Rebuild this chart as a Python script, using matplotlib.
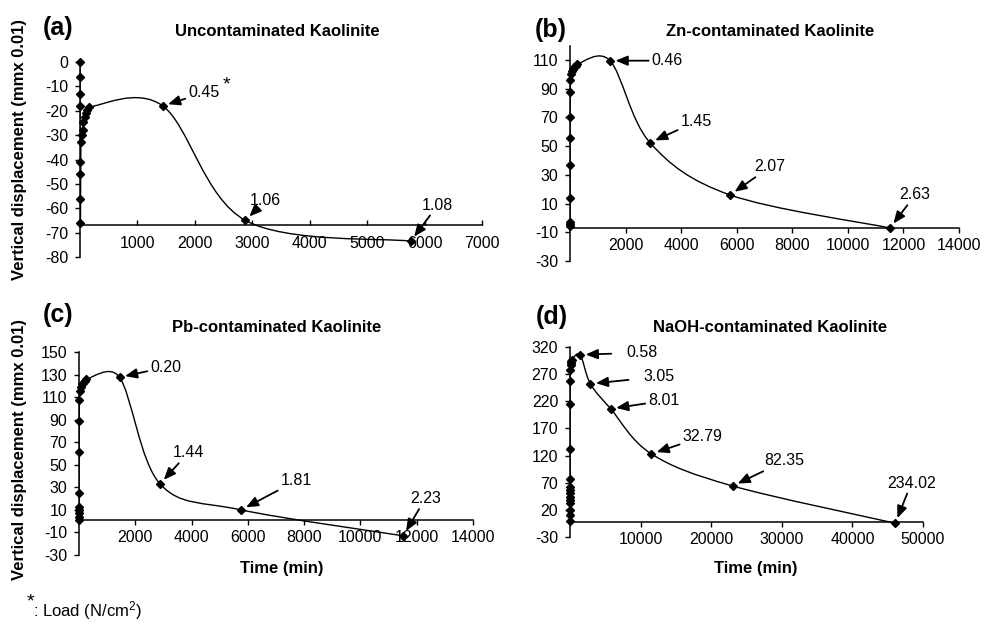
import matplotlib
matplotlib.use('Agg')
import matplotlib.pyplot as plt
import numpy as np
from matplotlib.path import Path
from matplotlib.patches import PathPatch

plt.rcParams['font.family'] = ['Liberation Sans', 'DejaVu Sans']
plt.rcParams['mathtext.fontset'] = 'custom'
plt.rcParams['mathtext.rm'] = 'Liberation Sans'
plt.rcParams['mathtext.it'] = 'Liberation Sans:italic'
plt.rcParams['mathtext.bf'] = 'Liberation Sans:bold'
plt.rcParams['axes.unicode_minus'] = False

# ---------------- data ----------------
a_time = [0, 0.1, 0.25, 0.5, 1, 2, 4, 8, 15, 30, 45, 60, 80, 100, 120, 150, 1440, 2880, 5760]
a_disp = [0, -6, -13, -18, -41, -46, -56, -66, -33, -30, -28, -24.5, -22.5, -21, -19.8, -18.5, -18, -65, -73.5]
a_load_idx = [16, 17, 18]
a_loads = ['0.45', '1.06', '1.08']

b_time = [0, 0.1, 0.25, 0.5, 1, 2, 4, 8, 15, 30, 60, 100, 150, 200, 240, 1440, 2880, 5760, 11520]
b_disp = [-5.5, -4, -3, 14, 37, 56, 70, 87.5, 96, 100.3, 102, 103.6, 105, 106, 107, 109.5, 52.4, 16, -7]
b_load_idx = [15, 16, 17, 18]
b_loads = ['0.46', '1.45', '2.07', '2.63']

c_time = [0, 0.1, 0.25, 0.5, 1, 2, 4, 8, 15, 30, 60, 100, 150, 200, 240, 1440, 2880, 5760, 11520]
c_disp = [1, 4, 7, 10, 12.8, 24.7, 61, 88.8, 107.4, 115.7, 119.3, 121.4, 122.8, 124.6, 125.8, 127.6, 33, 10, -13]
c_load_idx = [15, 16, 17, 18]
c_loads = ['0.20', '1.44', '1.81', '2.23']

d_time = [0, 0.1, 0.25, 0.5, 1, 2, 4, 6, 9, 12, 16, 25, 36, 60, 100, 144, 196, 240,
          1440, 2880, 5760, 11520, 23040, 46080]
d_disp = [-0.5, 10.6, 19.8, 32.2, 38.3, 44.4, 50.6, 56.7, 62.8, 77, 132.3, 214.8, 257.8, 278,
          287.4, 290.5, 293.5, 296.6, 305.8, 252.3, 206.2, 123.1, 64, -4.7]
d_load_idx = [18, 19, 20, 21, 22, 23]
d_loads = ['0.58', '3.05', '8.01', '32.79', '82.35', '234.02']

titles = ['Uncontaminated Kaolinite', 'Zn-contaminated Kaolinite',
          'Pb-contaminated Kaolinite', 'NaOH-contaminated Kaolinite']
panel_tags = ['(a)', '(b)', '(c)', '(d)']
y_label = 'Vertical displacement (mmx 0.01)'
x_label = 'Time (min)'

# ---------------- layout ----------------
W, H = 1000, 624
fig = plt.figure(figsize=(W / 100, H / 100), dpi=100)


def add_ax(l, r, t, b):
    return fig.add_axes([l / W, 1 - b / H, (r - l) / W, (b - t) / H])


def smooth_line(ax, xs, ys, lw=1.0):
    P = ax.transData.transform(np.column_stack([xs, ys]).astype(float))
    n = len(P)
    verts = [P[0]]
    codes = [Path.MOVETO]
    for i in range(n - 1):
        p0 = P[i - 1] if i > 0 else P[i]
        p1 = P[i]
        p2 = P[i + 1]
        p3 = P[i + 2] if i + 2 < n else P[i + 1]
        d12 = np.hypot(*(p2 - p1))
        d02 = np.hypot(*(p2 - p0))
        d13 = np.hypot(*(p3 - p1))
        f0 = 1 / 6
        f3 = 1 / 6
        if d02 > 0 and d02 / 6 >= d12 / 2:
            f0 = d12 / (2 * d02)
        if d13 > 0 and d13 / 6 >= d12 / 2:
            f3 = d12 / (2 * d13)
        c1 = p1 + (p2 - p0) * f0
        c2 = p2 - (p3 - p1) * f3
        verts += [c1, c2, p2]
        codes += [Path.CURVE4] * 3
    verts = ax.transData.inverted().transform(np.array(verts))
    ax.add_patch(PathPatch(Path(verts, codes), fill=False, lw=lw, ec='black', zorder=2))


def style(ax, xlim, xstep, ylim, yticks, cross, xdir):
    ax.set_xlim(*xlim)
    ax.set_ylim(*ylim)
    ax.set_xticks(np.arange(xstep, xlim[1] + 1, xstep))
    ax.set_yticks(yticks)
    ax.spines['top'].set_visible(False)
    ax.spines['right'].set_visible(False)
    ax.spines['bottom'].set_position(('data', cross))
    for s in ('left', 'bottom'):
        ax.spines[s].set_linewidth(1.1)
    xpad = 7.5 if xdir == 'in' else 3.5
    ax.tick_params(axis='x', direction=xdir, length=3.5, width=1, labelsize=11.5, pad=xpad)
    ax.tick_params(axis='y', direction='out', length=3.5, width=1, labelsize=11.5, pad=5)
    ax.patch.set_visible(False)


def annotate(ax, xs, ys, idx, labels, offsets, shrinkA):
    for k, (i, lab) in enumerate(zip(idx, labels)):
        dx, dy = offsets[k]
        ax.annotate(lab, xy=(xs[i], ys[i]), xytext=(dx * 0.72, dy * 0.72),
                    textcoords='offset points', ha='center', va='center', fontsize=11.5,
                    annotation_clip=False,
                    arrowprops=dict(arrowstyle='-|>,head_length=0.6,head_width=0.25',
                                    mutation_scale=12, color='black', lw=1.3,
                                    shrinkA=shrinkA[k], shrinkB=4))


panels = [
    dict(rect=(80, 482, 62, 257), xlim=(0, 7000), xstep=1000, ylim=(-80, 0),
         yticks=np.arange(-80, 1, 10), cross=-67, x=a_time, y=a_disp,
         idx=a_load_idx, labels=a_loads, xdir='in',
         offs=[(41, 13), (20, 20), (27, 36)], shrinkA=[0, 0, 0]),
    dict(rect=(570, 959, 45.6, 261), xlim=(0, 14000), xstep=2000, ylim=(-30, 120),
         yticks=np.arange(-30, 111, 20), cross=-7, x=b_time, y=b_disp,
         idx=b_load_idx, labels=b_loads, xdir='out',
         offs=[(57, 0), (46, 21), (40, 28), (25, 33)], shrinkA=[0, 0, 0, 0]),
    dict(rect=(79, 473, 352, 555), xlim=(0, 14000), xstep=2000, ylim=(-30, 150),
         yticks=np.arange(-30, 151, 20), cross=1, x=c_time, y=c_disp,
         idx=c_load_idx, labels=c_loads, xdir='out',
         offs=[(46, 10), (28, 31), (55, 29), (22, 37)], shrinkA=[0, 0, 0, 0]),
    dict(rect=(570, 923, 347, 537), xlim=(0, 50000), xstep=10000, ylim=(-30, 320),
         yticks=np.arange(-30, 321, 50), cross=-3, x=d_time, y=d_disp,
         idx=d_load_idx, labels=d_loads, xdir='out',
         offs=[(62, 2), (69, 7), (53, 8), (51, 17), (52, 25), (16, 40)],
         shrinkA=[9, 9, 0, 0, 0, 0]),
]

axes = []
for p in panels:
    ax = add_ax(*p['rect'])
    style(ax, p['xlim'], p['xstep'], p['ylim'], p['yticks'], p['cross'], p['xdir'])
    smooth_line(ax, p['x'], p['y'])
    ax.plot(p['x'], p['y'], linestyle='none', marker='D', ms=4, color='black',
            clip_on=False, zorder=3)
    annotate(ax, p['x'], p['y'], p['idx'], p['labels'], p['offs'], p['shrinkA'])
    axes.append(ax)

# superscript star after 0.45
axes[0].annotate('*', xy=(a_time[a_load_idx[0]], a_disp[a_load_idx[0]]),
                 xytext=(64 * 0.72, 21 * 0.72), textcoords='offset points',
                 ha='center', va='center', fontsize=14)

# titles & tags
title_pos = [(277, 31), (770, 32), (277, 327), (770, 327)]
tag_pos = [(43, 28), (535, 30), (43, 315), (536, 317)]
for t, (x, y) in zip(titles, title_pos):
    fig.text(x / W, 1 - y / H, t, ha='center', va='center', fontsize=12, fontweight='bold')
for t, (x, y) in zip(panel_tags, tag_pos):
    fig.text(x / W, 1 - y / H, t, ha='left', va='center', fontsize=18, fontweight='bold')

# axis labels
for (x, y) in [(20, 149), (20, 450)]:
    fig.text(x / W, 1 - y / H, y_label, rotation=90, ha='center', va='center',
             fontsize=12, fontweight='bold')
for (x, y) in [(282, 568), (756, 568)]:
    fig.text(x / W, 1 - y / H, x_label, ha='center', va='center',
             fontsize=12, fontweight='bold')

# footnote
fig.text(27 / W, 1 - 602 / H, '*', ha='left', va='center', fontsize=14)
fig.text(33 / W, 1 - 611 / H, ': Load (N/cm$^{2}$)', ha='left', va='center', fontsize=12)

fig.savefig('out.png', dpi=100)
